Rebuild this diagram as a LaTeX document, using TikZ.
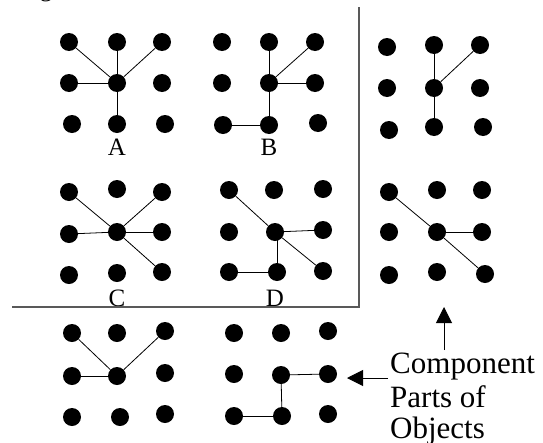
\documentclass[tikz,border=0pt]{standalone}
\usepackage{fontspec}
\setmainfont{Liberation Serif}
\usetikzlibrary{arrows.meta}
\tikzset{
  dot/.style={circle,fill=black,draw=none,inner sep=0pt,minimum size=18pt},
  edge/.style={draw=black,line width=0.8pt},
  sep/.style={draw=black!65,line width=1.6pt},
  lab/.style={font=\fontsize{25}{25}\selectfont,inner sep=0pt,anchor=base},
  side/.style={font=\fontsize{31}{32}\selectfont,inner sep=0pt,anchor=base west},
  arr/.style={draw=black,line width=1pt,-{Triangle[length=16pt,width=16pt]}}
}
\begin{document}
\begin{tikzpicture}[x=1pt,y=-1pt]
\useasboundingbox (0,0) rectangle (543,442);
\clip (0,0) rectangle (543,442);
\node[lab,anchor=base] (frag) at (46,-4) {g};
% dots
\foreach \n/\x/\y in {
 a-tl/69/42, a-tm/117/42, a-tr/162/42, a-ml/69/83, a-mm/117/83, a-mr/162/83, a-bl/72/124, a-bm/117/124, a-br/165/124,
 b-tl/222/42, b-tm/269/42, b-tr/315/42, b-ml/222/83, b-mm/269/83, b-mr/315/83, b-bl/223/125, b-bm/269/125, b-br/318/123,
 r-tl/387/47, r-tm/434/45, r-tr/480/45, r-ml/387/88, r-mm/434/88, r-mr/480/88, r-bl/389/130, r-bm/434/127, r-br/483/127,
 c-tl/69/192, c-tm/117/189, c-tr/162/192, c-ml/69/234, c-mm/117/232, c-mr/162/232, c-bl/69/275, c-bm/117/273, c-br/162/272,
 d-tl/229/190, d-tm/274/190, d-tr/323/189, d-ml/229/232, d-mm/275/232, d-mr/323/230, d-bl/229/272, d-bm/277/272, d-br/323/271,
 s-tl/389/192, s-tm/437/190, s-tr/482/190, s-ml/389/232, s-mm/437/232, s-mr/482/232, s-bl/389/275, s-bm/437/272, s-br/485/274,
 e-tl/72/333, e-tm/117/333, e-tr/165/331, e-ml/72/376, e-mm/117/376, e-mr/165/373, e-bl/72/417, e-bm/120/417, e-br/165/414,
 f-tl/234/333, f-tm/281/333, f-tr/328/331, f-ml/234/374, f-mm/281/375, f-mr/328/374, f-bl/234/416, f-bm/282/416, f-br/328/414}
 \node[dot] (\n) at (\x,\y) {};
% edges
\foreach \u/\v in {
 a-mm/a-tl, a-mm/a-tm, a-mm/a-tr, a-mm/a-ml, a-mm/a-bm,
 b-mm/b-tm, b-mm/b-tr, b-mm/b-mr, b-mm/b-bm, b-bm/b-bl,
 r-mm/r-tm, r-mm/r-tr, r-mm/r-bm,
 c-mm/c-tl, c-mm/c-tr, c-mm/c-ml, c-mm/c-mr, c-mm/c-br,
 d-mm/d-tl, d-mm/d-mr, d-mm/d-br, d-bm/d-bl,
 s-mm/s-tl, s-mm/s-mr, s-mm/s-br,
 e-mm/e-tl, e-mm/e-tr, e-mm/e-ml,
 f-mm/f-mr, f-mm/f-bm, f-bm/f-bl}
 \draw[edge] (\u) -- (\v);
\draw[edge] (d-bm) -- (d-bm |- d-mm);
% labels
\node[lab] (la) at (117,155) {A};
\node[lab] (lb) at (269,155) {B};
\node[lab] (lc) at (117,306) {C};
\node[lab] (ld) at (275,306) {D};
% separators
\coordinate (vtop) at (359,7);
\coordinate (corner) at (359,307);
\coordinate (hleft) at (12,307);
\draw[sep] (vtop) -- (corner) -- (hleft);
% side text
\node[side] (t1) at (390,373) {Component};
\node[side] (t2) at (390,407) {Parts of};
\node[side] (t3) at (390,438) {Objects};
\coordinate (upbase) at (444,350);
\coordinate (uptip) at (444,307);
\coordinate (lbase) at (388,378);
\coordinate (ltip) at (347,378);
\draw[arr] (upbase) -- (uptip);
\draw[arr] (lbase) -- (ltip);
\end{tikzpicture}
\end{document}
